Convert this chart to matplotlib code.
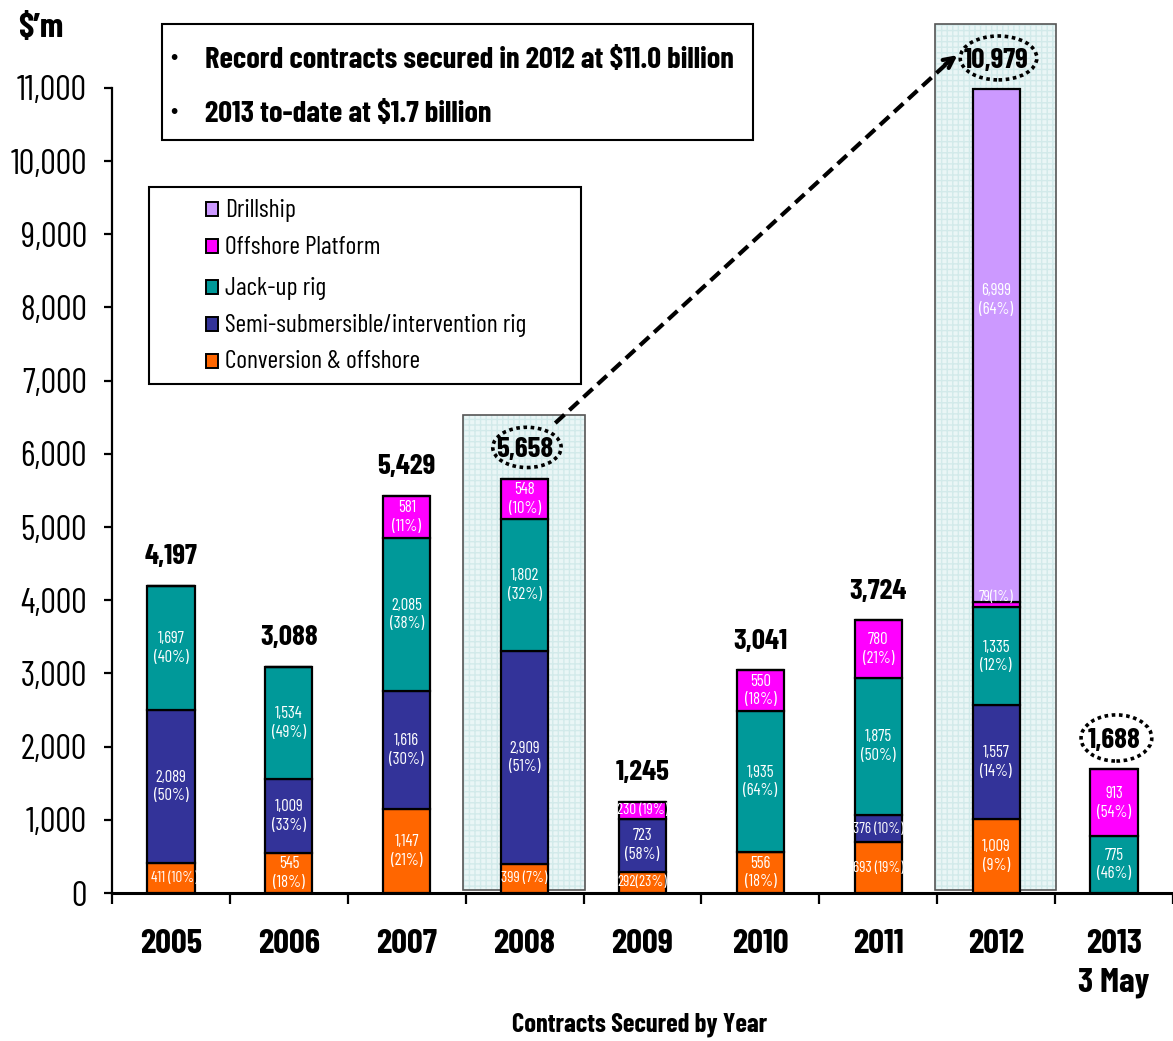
import numpy as np
import matplotlib
matplotlib.use("Agg")
import matplotlib.pyplot as plt
from matplotlib.patches import Rectangle, Ellipse
from matplotlib.ticker import FuncFormatter

# contract values in $'m by year, per rig type
years = ["2005", "2006", "2007", "2008", "2009", "2010", "2011", "2012", "2013\n3 May"]
conversion = [411, 545, 1147, 399, 292, 556, 693, 1009, 0]
semi_sub = [2089, 1009, 1616, 2909, 723, 0, 376, 1557, 0]
jack_up = [1697, 1534, 2085, 1802, 0, 1935, 1875, 1335, 775]
platform = [0, 0, 581, 548, 230, 550, 780, 79, 913]
drillship = [0, 0, 0, 0, 0, 0, 0, 6999, 0]

# share of each year's total, in %
conversion_pct = [10, 18, 21, 7, 23, 18, 19, 9, 0]
semi_sub_pct = [50, 33, 30, 51, 58, 0, 10, 14, 0]
jack_up_pct = [40, 49, 38, 32, 0, 64, 50, 12, 46]
platform_pct = [0, 0, 11, 10, 19, 18, 21, 1, 54]
drillship_pct = [0, 0, 0, 0, 0, 0, 0, 64, 0]

series_names = ["Conversion & offshore", "Semi-submersible/intervention rig",
                "Jack-up rig", "Offshore Platform", "Drillship"]
series_colors = ["#FF6600", "#333399", "#009999", "#FF00FF", "#CC99FF"]

headline = ["Record contracts secured in 2012 at $11.0 billion",
            "2013 to-date at $1.7 billion"]

plt.rcParams["font.family"] = ["Barlow Condensed", "DejaVu Sans"]

W, H = 1173, 1041
fig = plt.figure(figsize=(W / 100, H / 100), dpi=100)
ax = fig.add_axes([112 / W, 1 - 893 / H, 1 - 112 / W, (893 - 22) / H])


def px(x, y):
    return x / W, 1 - y / H


x = np.arange(len(years))
ax.set_xlim(-0.5, len(years) - 0.5)
ax.set_ylim(0, 11900)

# shaded columns behind the record years
for i, top in ((3, 6530), (7, 11875)):
    ax.add_patch(Rectangle((i - 0.52, 40), 1.03, top - 40, facecolor="#eaf6f6",
                           edgecolor="#d2eaea", hatch="+++", lw=0, zorder=0, clip_on=False))
    ax.add_patch(Rectangle((i - 0.52, 40), 1.03, top - 40, fill=False,
                           edgecolor="#555555", lw=1.2, zorder=1, clip_on=False))

values = [conversion, semi_sub, jack_up, platform, drillship]
pcts = [conversion_pct, semi_sub_pct, jack_up_pct, platform_pct, drillship_pct]
# segments whose value and share sit on one line, with the separator used
inline = {(0, 0): " ", (0, 3): " ", (0, 4): "", (0, 6): " ",
          (1, 6): " ", (3, 4): " ", (3, 7): ""}
label_y = {(4, 7): 8100, (3, 7): 4040}

bottom = np.zeros(len(years))
for s, (vals, pc, color) in enumerate(zip(values, pcts, series_colors)):
    vals = np.array(vals)
    ax.bar(x, vals, 0.4, bottom=bottom, color=color, edgecolor="black",
           lw=1.6, zorder=3)
    for i, v in enumerate(vals):
        if v <= 0:
            continue
        sep = inline.get((s, i), "\n")
        txt = f"{v:,}{sep}({pc[i]}%)"
        yy = label_y.get((s, i), bottom[i] + v / 2)
        size = 12 if sep == "\n" else 11
        if (s, i) == (0, 0):
            # this label runs past its bar and is cut at the bar edge
            t = ax.text(i - 0.17, yy, txt, ha="left", va="center", color="white",
                        fontsize=size, zorder=4)
            t.set_clip_path(Rectangle((i - 0.2, 0), 0.4, v, transform=ax.transData))
        else:
            ax.text(i, yy, txt, ha="center", va="center", color="white",
                    fontsize=size, linespacing=1.3, zorder=4)
    bottom += vals

totals = bottom
for i, tot in enumerate(totals):
    ax.text(i, tot + 400, f"{int(tot):,}", ha="center", va="center",
            fontsize=21, fontweight="bold", zorder=5)

# dotted rings around the highlighted totals
for i, w, h in ((3, 0.58, 550), (7, 0.65, 600), (8, 0.6, 630)):
    ax.add_patch(Ellipse((i + 0.02, totals[i] + 430), w, h, fill=False,
                         ls=(0, (1, 1)), lw=2.6, color="black", zorder=6, clip_on=False))

# dashed pointer from 2008 to 2012
ax.plot([3.26, 6.6], [6420, 11360], ls=(0, (3, 1.6)), lw=3, color="black",
        zorder=6, clip_on=False, solid_capstyle="butt")
ax.annotate("", xy=(6.69, 11470), xytext=(6.55, 11300),
            arrowprops=dict(arrowstyle="->", lw=3, color="black",
                            mutation_scale=18), zorder=6, annotation_clip=False)

# axes styling
for side in ("top", "right"):
    ax.spines[side].set_visible(False)
ax.spines["left"].set_bounds(0, 11000)
ax.spines["left"].set_linewidth(1.6)
ax.spines["bottom"].set_linewidth(2.2)
ax.set_yticks(np.arange(0, 11001, 1000))
ax.yaxis.set_major_formatter(FuncFormatter(lambda v, _: f"{int(v):,}"))
ax.tick_params(axis="y", direction="out", length=6, width=1.6, labelsize=25, pad=12)

ax.set_xticks(np.arange(-0.5, len(years)))
ax.set_xticklabels([])
ax.tick_params(axis="x", which="major", direction="out", length=8, width=1.6)
ax.set_xticks(x, minor=True)
ax.set_xticklabels(years, minor=True, fontsize=25, fontweight="bold", linespacing=1.35)
ax.tick_params(axis="x", which="minor", length=0, pad=26)

fig.text(*px(640, 1025), "Contracts Secured by Year", ha="center", va="center",
         fontsize=19, fontweight="bold")
fig.text(*px(18, 28), "$\u2019m", ha="left", va="center", fontsize=25,
         fontweight="bold")

# headline box
fig.patches.append(Rectangle(px(162, 140), (753 - 162) / W, 116 / H, transform=fig.transFigure,
                             facecolor="white", edgecolor="black", lw=1.5, zorder=7))
for line, yy in zip(headline, (60, 114)):
    fig.text(*px(170, yy - 3), "\u2022", ha="left", va="center", fontsize=18, zorder=8)
    fig.text(*px(205, yy), line, ha="left", va="center", fontsize=22,
             fontweight="bold", zorder=8)

# legend, top entry first
fig.patches.append(Rectangle(px(149, 384), (581 - 149) / W, (384 - 187) / H,
                             transform=fig.transFigure, facecolor="white",
                             edgecolor="black", lw=1.5, zorder=7))
for k, yy in zip(range(4, -1, -1), (209, 246, 287, 324, 361)):
    fig.patches.append(Rectangle(px(206, yy + 7), 12 / W, 14 / H, transform=fig.transFigure,
                                 facecolor=series_colors[k], edgecolor="black",
                                 lw=1.4, zorder=8))
    fig.text(*px(225, yy + 1), series_names[k], ha="left", va="center", fontsize=18.5,
             zorder=8)

fig.savefig("out.png", dpi=100)
